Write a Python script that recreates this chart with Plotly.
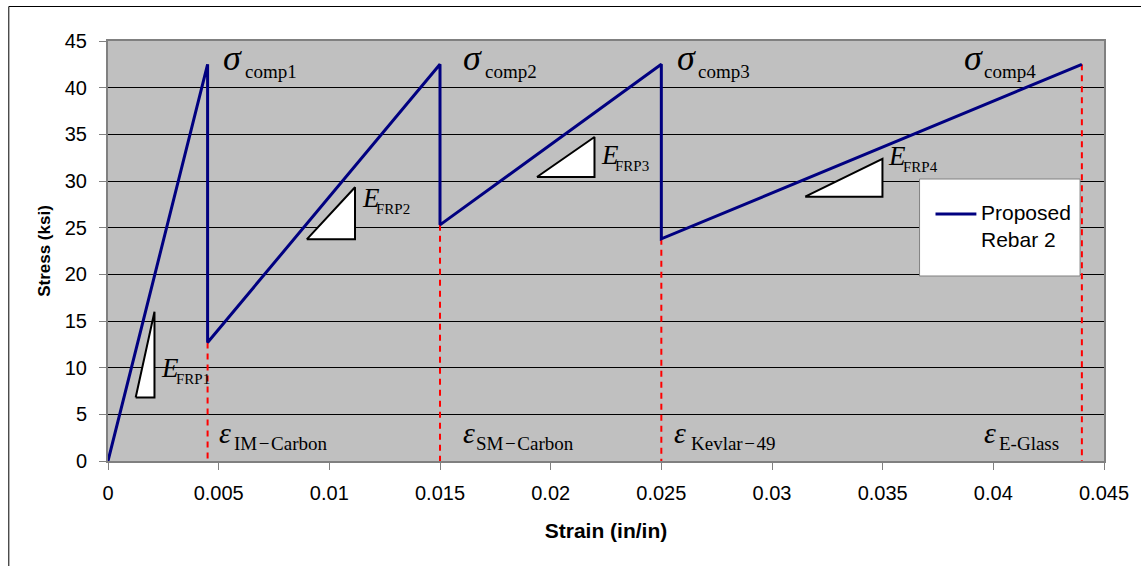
import plotly.graph_objects as go

# ---------------- data ----------------
strain = [0, 0.0045, 0.0045, 0.015, 0.015, 0.025, 0.025, 0.044]
stress = [0, 42.5, 12.7, 42.5, 25.3, 42.5, 23.8, 42.5]
series_name = "Proposed<br>Rebar 2"

drop_strain = [0.0045, 0.015, 0.025, 0.044]
drop_stress = [12.7, 25.3, 23.8, 42.5]

# slope triangles (left-bottom x, right x, bottom y, top y)
tri_x0 = [0.00125, 0.00898, 0.01938, 0.0315]
tri_x1 = [0.0021, 0.01116, 0.02198, 0.03499]
tri_y0 = [6.8, 23.75, 30.43, 28.32]
tri_y1 = [16.0, 29.33, 34.71, 32.36]

x_ticks = [0, 0.005, 0.01, 0.015, 0.02, 0.025, 0.03, 0.035, 0.04, 0.045]
x_ticktext = ["0", "0.005", "0.01", "0.015", "0.02", "0.025", "0.03", "0.035", "0.04", "0.045"]
y_ticks = [0, 5, 10, 15, 20, 25, 30, 35, 40, 45]

sigma_subs = ["comp1", "comp2", "comp3", "comp4"]
e_subs = ["FRP1", "FRP2", "FRP3", "FRP4"]
eps_subs = ["IM\u200a\u2212\u200aCarbon", "SM\u200a\u2212\u200aCarbon", "Kevlar\u200a\u2212\u200a49", "E-Glass"]

# ---------------- geometry helpers (pixel -> data) ----------------
W, H = 1141, 566
L, R, T, B = 108, 1107, 41, 461
XMAX, YMAX = 0.045, 45.0


def dx(px):
    return (px - L) / (R - L) * XMAX


def dy(py):
    return (B - py) / (B - T) * YMAX


def px_(px):
    return (px - L) / (R - L)


def py_(py):
    return (B - py) / (B - T)


fig = go.Figure()

# red dashed drop lines
rx, ry = [], []
for s, v in zip(drop_strain, drop_stress):
    rx += [s, s, None]
    ry += [v, 0, None]
fig.add_trace(go.Scatter(x=rx, y=ry, mode="lines",
                         line=dict(color="#FF0000", width=2, dash="6px,5px"),
                         showlegend=False, hoverinfo="skip"))

# main curve
fig.add_trace(go.Scatter(x=strain, y=stress, mode="lines", name=series_name,
                         line=dict(color="#000080", width=3), showlegend=False))

# slope triangles
for x0, x1, y0, y1 in zip(tri_x0, tri_x1, tri_y0, tri_y1):
    fig.add_trace(go.Scatter(x=[x0, x1, x1, x0], y=[y0, y1, y0, y0], mode="lines",
                             fill="toself", fillcolor="white",
                             line=dict(color="black", width=2),
                             showlegend=False, hoverinfo="skip"))

serif = "Liberation Serif, Times New Roman, serif"
ann = []

# sigma labels
sig_pos = [(221, 243), (462, 484), (677, 698), (965, 985)]
for (gx, sx), sub in zip(sig_pos, sigma_subs):
    ann.append(dict(x=dx(gx), y=dy(58), xref="x", yref="y", text="<i>\u03c3</i>",
                    showarrow=False, xanchor="left", yanchor="middle",
                    font=dict(family=serif, size=36, color="black")))
    ann.append(dict(x=dx(sx), y=dy(71), xref="x", yref="y", text=sub,
                    showarrow=False, xanchor="left", yanchor="middle",
                    font=dict(family=serif, size=19, color="black")))

# E labels
e_pos = [(159, 174, 368, 379), (361, 375, 198, 209), (600, 615, 155, 166), (888, 903, 156, 167)]
for (gx, sx, gy, sy), sub in zip(e_pos, e_subs):
    ann.append(dict(x=dx(gx), y=dy(gy), xref="x", yref="y", text="<i>E</i>",
                    showarrow=False, xanchor="left", yanchor="middle",
                    font=dict(family=serif, size=27, color="black")))
    ann.append(dict(x=dx(sx), y=dy(sy), xref="x", yref="y", text=sub,
                    showarrow=False, xanchor="left", yanchor="middle",
                    font=dict(family=serif, size=15, color="black")))

# epsilon labels
eps_pos = [(217, 232), (462, 475), (674, 691), (985, 1000)]
for (gx, sx), sub in zip(eps_pos, eps_subs):
    ann.append(dict(x=dx(gx), y=dy(432), xref="x", yref="y", text="<i>\u03b5</i>",
                    showarrow=False, xanchor="left", yanchor="middle",
                    font=dict(family=serif, size=30, color="black")))
    ann.append(dict(x=dx(sx), y=dy(443), xref="x", yref="y", text=sub,
                    showarrow=False, xanchor="left", yanchor="middle",
                    font=dict(family=serif, size=19, color="black")))

# legend text
ann.append(dict(x=px_(982), y=py_(226), xref="paper", yref="paper", text=series_name,
                showarrow=False, xanchor="left", yanchor="middle", align="left",
                font=dict(family="Liberation Sans, Arial, sans-serif", size=21, color="black")))

shapes = [
    # outer frame
    dict(type="rect", xref="paper", yref="paper", x0=px_(8.5), x1=px_(1150), y0=py_(575), y1=py_(6.5),
         line=dict(color="black", width=1), fillcolor="rgba(0,0,0,0)", layer="below"),
    # legend box
    dict(type="rect", xref="paper", yref="paper", x0=px_(922), x1=px_(1083), y0=py_(276), y1=py_(179),
         line=dict(color="#808080", width=1), fillcolor="white", layer="above"),
    dict(type="line", xref="paper", yref="paper", x0=px_(938), x1=px_(979), y0=py_(214), y1=py_(214),
         line=dict(color="#000080", width=3), layer="above"),
]

fig.update_layout(
    width=W, height=H,
    margin=dict(l=L, r=W - R, t=T, b=H - B, pad=0),
    paper_bgcolor="white", plot_bgcolor="#C0C0C0",
    showlegend=False,
    annotations=ann, shapes=shapes,
    font=dict(family="Liberation Sans, Arial, sans-serif", color="black"),
)

fig.update_xaxes(range=[0, XMAX], tickvals=x_ticks, ticktext=x_ticktext,
                 showgrid=False, zeroline=False, showline=True, linecolor="#808080", linewidth=2,
                 mirror=True, ticks="outside", ticklen=7, tickcolor="#808080", tickwidth=1,
                 ticklabelstandoff=6,
                 tickfont=dict(size=20, color="black"),
                 title=dict(text="<b>Strain (in/in)</b>", font=dict(size=21, color="black"), standoff=20))
fig.update_yaxes(range=[0, YMAX], tickvals=y_ticks,
                 showgrid=True, gridcolor="#000000", gridwidth=1, zeroline=False,
                 showline=True, linecolor="#808080", linewidth=2,
                 mirror=True, ticks="outside", ticklen=7, tickcolor="#808080", tickwidth=1,
                 ticklabelstandoff=8,
                 tickfont=dict(size=20, color="black"),
                 title=dict(text="<b>Stress (ksi)</b>", font=dict(size=17, color="black"), standoff=10))

fig.write_html("out.html")
